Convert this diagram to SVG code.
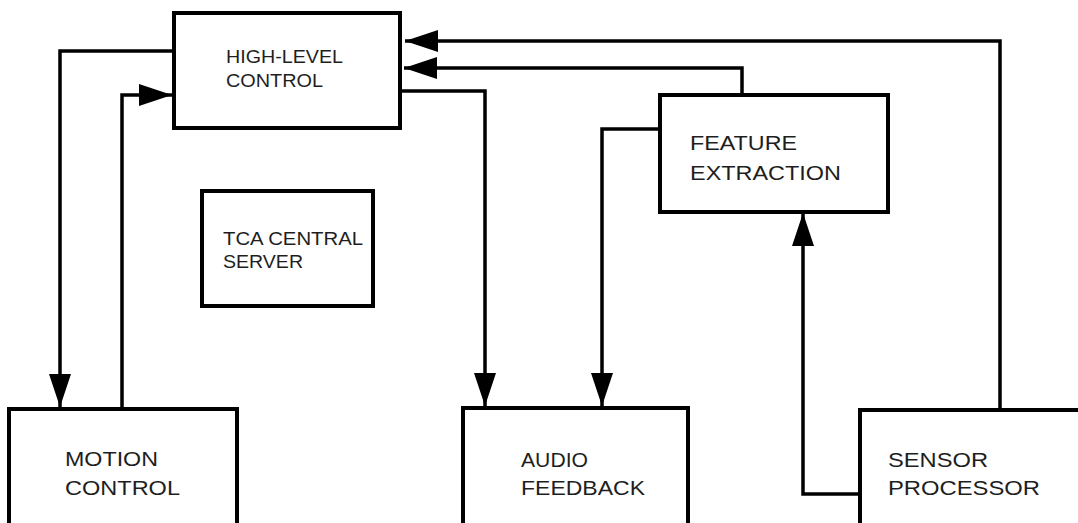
<svg xmlns="http://www.w3.org/2000/svg" width="1078" height="523" viewBox="0 0 1078 523">
<style>
.box{fill:#fff;stroke:#000;stroke-width:4}
.ln{fill:none;stroke:#000;stroke-width:3.5;marker-end:url(#ah)}
.t{font-family:"Liberation Sans",Arial,sans-serif;fill:#1e1e1e}
.s{font-size:18px}
.m{font-size:19px}
.b{font-size:21px}
</style>
<defs>
<marker id="ah" markerUnits="userSpaceOnUse" markerWidth="40" markerHeight="30" refX="33" refY="11" orient="auto" overflow="visible">
<path d="M0,0 L33,11 L0,22 Z" fill="#000"/>
</marker>
</defs>
<rect width="1078" height="523" fill="#fff"/>
<g id="connectors">
<path class="ln" d="M174,51 H60 V407"/>
<path class="ln" d="M122,409 V95 H172"/>
<path class="ln" d="M1000,410 V41 H405"/>
<path class="ln" d="M742,95 V68 H404"/>
<path class="ln" d="M400,91 H485 V406"/>
<path class="ln" d="M660,129 H602 V406"/>
<path class="ln" d="M860,494 H803 V213"/>
</g>
<g id="high-level-control">
<rect class="box" x="174" y="13" width="226" height="115"/>
<text class="t s" x="226" y="63" textLength="117" lengthAdjust="spacingAndGlyphs">HIGH-LEVEL</text>
<text class="t s" x="226" y="87" textLength="97" lengthAdjust="spacingAndGlyphs">CONTROL</text>
</g>
<g id="tca-central-server">
<rect class="box" x="202" y="191" width="171" height="115"/>
<text class="t m" x="223" y="245" textLength="140" lengthAdjust="spacingAndGlyphs">TCA CENTRAL</text>
<text class="t m" x="223" y="268" textLength="80" lengthAdjust="spacingAndGlyphs">SERVER</text>
</g>
<g id="feature-extraction">
<rect class="box" x="660" y="95" width="228" height="117"/>
<text class="t b" x="690" y="150" textLength="107" lengthAdjust="spacingAndGlyphs">FEATURE</text>
<text class="t b" x="690" y="180" textLength="151" lengthAdjust="spacingAndGlyphs">EXTRACTION</text>
</g>
<g id="motion-control">
<rect class="box" x="9" y="409" width="228" height="150"/>
<text class="t b" x="65" y="466" textLength="93" lengthAdjust="spacingAndGlyphs">MOTION</text>
<text class="t b" x="65" y="495" textLength="115" lengthAdjust="spacingAndGlyphs">CONTROL</text>
</g>
<g id="audio-feedback">
<rect class="box" x="463" y="408" width="225" height="150"/>
<text class="t b" x="521" y="467" textLength="67" lengthAdjust="spacingAndGlyphs">AUDIO</text>
<text class="t b" x="521" y="495" textLength="124" lengthAdjust="spacingAndGlyphs">FEEDBACK</text>
</g>
<g id="sensor-processor">
<rect class="box" x="860" y="410" width="240" height="150"/>
<text class="t b" x="888" y="467" textLength="100" lengthAdjust="spacingAndGlyphs">SENSOR</text>
<text class="t b" x="888" y="495" textLength="152" lengthAdjust="spacingAndGlyphs">PROCESSOR</text>
</g>
</svg>
